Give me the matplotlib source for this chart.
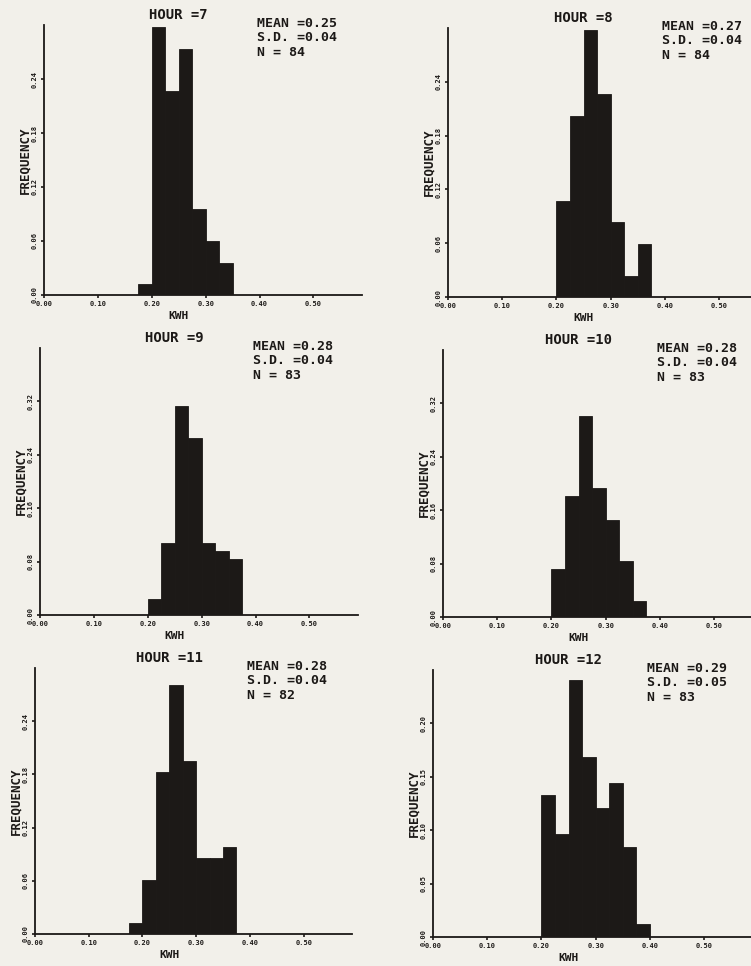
import numpy as np
import matplotlib
matplotlib.use('Agg')
from matplotlib import pyplot as plt
from matplotlib import transforms

# KWH per hour, histograms with bins of 0.025 KWH (counts)
BIN_W = 0.025

hours = [7, 8, 9, 10, 11, 12]
first_bin = [0.175, 0.200, 0.200, 0.200, 0.175, 0.200]
counts_h7 = [1, 25, 19, 23, 8, 5, 3]
counts_h8 = [9, 17, 25, 19, 7, 2, 5]
counts_h9 = [2, 9, 26, 22, 9, 8, 7]
counts_h10 = [6, 15, 25, 16, 12, 7, 2]
counts_h11 = [1, 5, 15, 23, 16, 7, 7, 8]
counts_h12 = [11, 8, 20, 14, 10, 12, 7, 1]
all_counts = [counts_h7, counts_h8, counts_h9, counts_h10, counts_h11, counts_h12]

means = ['0.25', '0.27', '0.28', '0.28', '0.28', '0.29']
sds = ['0.04', '0.04', '0.04', '0.04', '0.04', '0.05']
ns = [84, 84, 83, 83, 82, 83]
ytick_step = [0.06, 0.06, 0.08, 0.08, 0.06, 0.05]
xticks = [0.0, 0.1, 0.2, 0.3, 0.4, 0.5]

W, H = 751, 966
PAPER = '#f2f0ea'
INK = '#1c1917'
FONT = 'DejaVu Sans Mono'

# panel frames in pixels: y axis x, baseline y, axis top y, x axis right end
frames = [
    (44, 295, 25, 362),
    (448, 297, 28, 768),
    (40, 615, 348, 358),
    (443, 617, 350, 763),
    (35, 934, 668, 352),
    (433, 937, 670, 753),
]

fig = plt.figure(figsize=(W / 100, H / 100), dpi=100, facecolor=PAPER)

for i, h in enumerate(hours):
    x0, base, top, x1 = frames[i]
    ax = fig.add_axes([x0 / W, 1 - base / H, (x1 - x0) / W, (base - top) / H])
    ax.patch.set_alpha(0)

    counts = np.array(all_counts[i])
    freq = counts / ns[i]
    edges = first_bin[i] + BIN_W * np.arange(len(counts))
    ax.bar(edges, freq, width=BIN_W, align='edge', color=INK, edgecolor=INK, linewidth=0.6)

    step = ytick_step[i]
    ax.set_xlim(0, 0.59)
    ax.set_ylim(0, 5 * step)
    ax.set_xticks(xticks)
    ax.set_xticklabels(['%.2f' % v for v in xticks])
    yt = [k * step for k in range(5)]
    ax.set_yticks(yt)
    ax.set_yticklabels(['%.2f' % v for v in yt], rotation=90, va='center')

    for s in ['top', 'right']:
        ax.spines[s].set_visible(False)
    for s in ['left', 'bottom']:
        ax.spines[s].set_linewidth(1.3)
        ax.spines[s].set_color(INK)
    ax.tick_params(length=2.5, width=1.2, colors=INK, pad=2, direction='out')
    for lab in ax.get_xticklabels() + ax.get_yticklabels():
        lab.set_fontfamily(FONT)
        lab.set_fontsize(5)
        lab.set_fontweight('bold')

    ax.set_ylabel('FREQUENCY', fontfamily=FONT, fontsize=9, fontweight='bold',
                  color=INK, labelpad=0)

    # title, stats block and x label are placed against the data x scale
    trans = transforms.blended_transform_factory(ax.transData, ax.transAxes)
    ax.annotate('HOUR =%d' % h, xy=(0.25, 1), xycoords=trans, xytext=(0, 7),
                textcoords='offset points', ha='center', va='center',
                fontfamily=FONT, fontsize=10, fontweight='bold', color=INK)
    ax.annotate('MEAN =%s\nS.D. =%s\nN = %d' % (means[i], sds[i], ns[i]),
                xy=(0.395, 1), xycoords=trans, xytext=(0, 6),
                textcoords='offset points', ha='left', va='top',
                fontfamily=FONT, fontsize=9.5, fontweight='bold', color=INK,
                linespacing=1.15)
    ax.annotate('KWH', xy=(0.25, 0), xycoords=trans, xytext=(0, -15),
                textcoords='offset points', ha='center', va='center',
                fontfamily=FONT, fontsize=8, fontweight='bold', color=INK)

fig.savefig('out.png', dpi=100, facecolor=PAPER)
